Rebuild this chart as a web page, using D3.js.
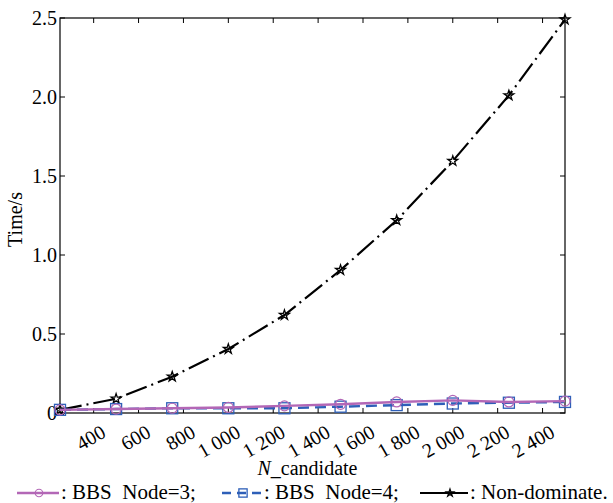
<!DOCTYPE html>
<html>
<head>
<meta charset="utf-8">
<script src="https://cdn.jsdelivr.net/npm/d3@7"></script>
<style>
  body { margin: 0; background: #fff; }
  svg text { font-family: "Liberation Serif", "Times New Roman", serif; fill: #000; white-space: pre; }
</style>
</head>
<body>
<div id="chart"></div>
<script>
var nCandidate = [250, 500, 750, 1000, 1250, 1500, 1750, 2000, 2250, 2500];
var bbsNode3 = [0.02, 0.025, 0.03, 0.035, 0.045, 0.055, 0.07, 0.08, 0.07, 0.075];
var bbsNode4 = [0.02, 0.025, 0.03, 0.03, 0.03, 0.04, 0.05, 0.06, 0.065, 0.07];
var nonDominate = [0.02, 0.09, 0.23, 0.405, 0.62, 0.905, 1.22, 1.595, 2.01, 2.49];
var xTicks = [400, 600, 800, 1000, 1200, 1400, 1600, 1800, 2000, 2200, 2400];
var yTicks = [0, 0.5, 1.0, 1.5, 2.0, 2.5];

var W = 613, H = 503;
var margin = {top: 18, right: 48, bottom: 90, left: 60};
var width = W - margin.left - margin.right,
    height = H - margin.top - margin.bottom;
var fs = 20;

var svg = d3.select("#chart").append("svg")
    .attr("width", W)
    .attr("height", H);
var g = svg.append("g")
    .attr("transform", "translate(" + margin.left + "," + margin.top + ")");

var x = d3.scaleLinear().domain([250, 2500]).range([0, width]);
var y = d3.scaleLinear().domain([0, 2.5]).range([height, 0]);

// thousands with a space, zero plain
var fmtX = function(d) { return d >= 1000 ? Math.floor(d / 1000) + " " + d3.format("03d")(d % 1000) : d; };
var fmtY = function(d) { return d == 0 ? "0" : d3.format(".1f")(d); };

// frame
g.append("rect").attr("width", width).attr("height", height)
  .attr("fill", "none").attr("stroke", "#000").attr("stroke-width", 1.2);

// ticks, inward on all four sides
var tl = 5;
xTicks.forEach(function(t) {
  g.append("line").attr("x1", x(t)).attr("x2", x(t)).attr("y1", height).attr("y2", height - tl).attr("stroke", "#000");
  g.append("line").attr("x1", x(t)).attr("x2", x(t)).attr("y1", 0).attr("y2", tl).attr("stroke", "#000");
  g.append("text")
    .attr("text-anchor", "end")
    .attr("font-size", fs)
    .attr("transform", "translate(" + (x(t) + 6) + "," + (height + 10) + ") rotate(-30)")
    .attr("dy", "0.75em")
    .text(fmtX(t));
});
yTicks.forEach(function(t) {
  g.append("line").attr("x1", 0).attr("x2", tl).attr("y1", y(t)).attr("y2", y(t)).attr("stroke", "#000");
  g.append("line").attr("x1", width).attr("x2", width - tl).attr("y1", y(t)).attr("y2", y(t)).attr("stroke", "#000");
  g.append("text")
    .attr("text-anchor", "end")
    .attr("font-size", fs)
    .attr("x", -3).attr("y", y(t)).attr("dy", "0.35em")
    .text(fmtY(t));
});

// axis titles
g.append("text")
  .attr("text-anchor", "middle").attr("font-size", fs)
  .attr("transform", "translate(-38," + (height / 2 + 4) + ") rotate(-90)")
  .text("Time/s");
var xt = g.append("text")
  .attr("text-anchor", "middle").attr("font-size", fs)
  .attr("x", width / 2 - 5).attr("y", height + 62);
xt.append("tspan").attr("font-style", "italic").text("N");
xt.append("tspan").text("_candidate");

var series = [
  {name: ": BBS  Node=3;", values: bbsNode3, color: "#b367b6", dash: null, marker: "circle", width: 2.4},
  {name: ": BBS  Node=4;", values: bbsNode4, color: "#2e5fb8", dash: "11,6", marker: "square", width: 2.4},
  {name: ": Non-dominate.", values: nonDominate, color: "#000", dash: "22,5,2,5", marker: "star", width: 2.2}
];

var line = d3.line()
  .x(function(d, i) { return x(nCandidate[i]); })
  .y(function(d) { return y(d); });

function drawMarker(sel, s, k) {
  k = k || 1;
  if (s.marker == "circle") {
    sel.append("circle").attr("r", 5 * k)
      .attr("fill", "none").attr("stroke", s.color).attr("stroke-width", 1.2);
  } else if (s.marker == "square") {
    sel.append("rect").attr("x", -5.5 * k).attr("y", -5.5 * k).attr("width", 11 * k).attr("height", 11 * k)
      .attr("fill", "none").attr("stroke", s.color).attr("stroke-width", 1.3);
  } else {
    sel.append("path").attr("d", d3.symbol().type(d3.symbolStar).size(30 * k * k)())
      .attr("fill", "none").attr("stroke", s.color).attr("stroke-width", 1.3);
  }
}

// draw in reverse so the purple sits on top of blue like the reference
[series[2], series[1], series[0]].forEach(function(s) {
  g.append("path").datum(s.values)
    .attr("d", line)
    .attr("fill", "none")
    .attr("stroke", s.color)
    .attr("stroke-width", s.width)
    .attr("stroke-dasharray", s.dash);
  g.selectAll(null).data(s.values).enter().append("g")
    .attr("transform", function(d, i) { return "translate(" + x(nCandidate[i]) + "," + y(d) + ")"; })
    .each(function() { drawMarker(d3.select(this), s); });
});

// legend: line start, line end, marker x, text x
var legPos = [[17, 59, 39, 61], [222, 262, 243, 264], [420, 468, 450, 470]];
series.forEach(function(s, i) {
  var p = legPos[i];
  var lg = svg.append("g").attr("transform", "translate(0,493)");
  lg.append("line").attr("x1", p[0]).attr("x2", p[1]).attr("y1", 0).attr("y2", 0)
    .attr("stroke", s.color).attr("stroke-width", s.width)
    .attr("stroke-dasharray", s.marker == "square" ? "9,6" : null);
  var m = lg.append("g").attr("transform", "translate(" + p[2] + ",0)");
  drawMarker(m, s, 0.75);
  lg.append("text").attr("x", p[3]).attr("y", 6)
    .attr("font-size", 21).text(s.name);
});
</script>
</body>
</html>
